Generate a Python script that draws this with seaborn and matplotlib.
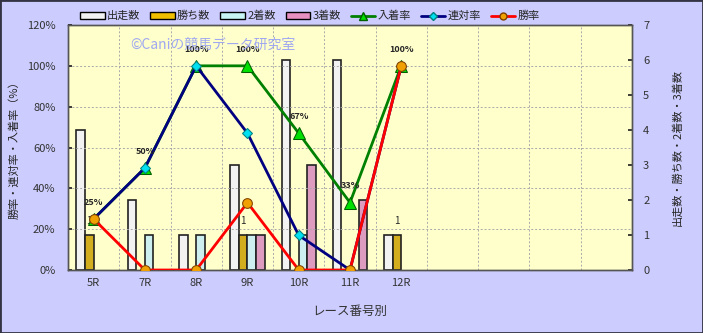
import numpy as np
import pandas as pd
import matplotlib
matplotlib.use("Agg")
import matplotlib.pyplot as plt
import seaborn as sns
from matplotlib.patches import Patch
from matplotlib.lines import Line2D

races = ["5R", "7R", "8R", "9R", "10R", "11R", "12R"]
starts = [4, 2, 1, 3, 6, 6, 1]       # 出走数
wins = [1, 0, 0, 1, 0, 0, 1]         # 勝ち数
seconds = [0, 1, 1, 1, 1, 0, 0]      # 2着数
thirds = [0, 0, 0, 1, 3, 2, 0]       # 3着数
place_rate = [25, 50, 100, 100, 67, 33, 100]   # 入着率
rentai_rate = [25, 50, 100, 67, 17, 0, 100]    # 連対率
win_rate = [25, 0, 0, 33, 0, 0, 100]           # 勝率
n_slots = 11

sns.set_theme(style="white")
plt.rcParams["font.family"] = ["Noto Sans CJK JP", "DejaVu Sans"]

bar_names = ["出走数", "勝ち数", "2着数", "3着数"]
bar_colors = ["#F2F2F2", "#F0C000", "#C8F4F4", "#E890C0"]
df = pd.DataFrame({
    "race": races * 4,
    "series": sum([[n] * len(races) for n in bar_names], []),
    "count": starts + wins + seconds + thirds,
})

fig = plt.figure(figsize=(7.03, 3.33), dpi=100, facecolor="#CCCCFF")
ax = fig.add_axes([68 / 703, 63 / 333, 564 / 703, 245 / 333])
ax.set_facecolor("#FFFFCC")

sns.barplot(data=df, x="race", y="count", hue="series", order=races,
            hue_order=bar_names, palette=bar_colors, width=0.67, gap=0,
            edgecolor="#222222", linewidth=1.2, ax=ax, legend=False, zorder=2)
for p in ax.patches:
    if p.get_height() == 0:
        p.set_visible(False)
ax.set_xlim(-0.5, n_slots - 0.5)
ax.set_ylim(0, 7)

ax2 = ax.twinx()

ax.yaxis.tick_right()
ax.yaxis.set_label_position("right")
ax.set_yticks(range(0, 8))
ax.set_ylabel("出走数・勝ち数・2着数・3着数", fontsize=8, labelpad=16)
ax.set_xlabel("レース番号別", fontsize=9, labelpad=12, color="#333333")
ax.set_xticks(range(len(races)))
ax.set_xticklabels(races, fontsize=8, color="#333333")
ax.tick_params(axis="y", labelsize=8, labelcolor="#333333", direction="in", length=3,
               right=True, left=False, labelright=True, labelleft=False, pad=8)
ax.tick_params(axis="x", length=0, pad=6)
ax.set_xticks(np.arange(n_slots) + 0.5, minor=True)
ax.tick_params(axis="x", which="minor", length=0)
ax.grid(False)
ax.grid(True, which="minor", axis="x", color="#AAAAAA", linestyle=(0, (2, 2)), linewidth=0.7)

# labels for 勝ち数
bar_w = 0.67 / 4
for i, w in enumerate(wins):
    if w > 0:
        ax.text(i - bar_w / 2, w + 0.25, str(w), ha="center", va="bottom", fontsize=7)

ax2.patch.set_visible(False)
ax2.yaxis.tick_left()
ax2.yaxis.set_label_position("left")
ax2.set_ylim(0, 120)
ax2.set_yticks(range(0, 121, 20))
ax2.set_yticklabels([f"{v}%" for v in range(0, 121, 20)])
ax2.tick_params(axis="y", labelsize=8, labelcolor="#333333", direction="in", length=3,
                left=True, right=False, labelleft=True, labelright=False, pad=9)
ax2.grid(True, axis="y", color="#AAAAAA", linestyle=(0, (2, 2)), linewidth=0.7)
ax2.set_axisbelow(True)
ax2.set_ylabel("勝率・連対率・入着率（%）", fontsize=8, labelpad=5)

x = np.arange(len(races))
line_df = pd.DataFrame({"x": x, "入着率": place_rate, "連対率": rentai_rate, "勝率": win_rate})
sns.lineplot(data=line_df, x="x", y="入着率", ax=ax2, color="#008000", lw=2,
             marker="^", markersize=8, markerfacecolor="#00E000", markeredgecolor="#006000", zorder=3)
sns.lineplot(data=line_df, x="x", y="連対率", ax=ax2, color="#000080", lw=2,
             marker="D", markersize=5, markerfacecolor="#00E0F0", markeredgecolor="#008080", zorder=4)
sns.lineplot(data=line_df, x="x", y="勝率", ax=ax2, color="#FF0000", lw=2,
             marker="o", markersize=7, markerfacecolor="#F0A000", markeredgecolor="#804000", zorder=5)
ax2.set_xlim(-0.5, n_slots - 0.5)
ax2.set_xlabel("")
for i, v in enumerate(place_rate):
    ax2.text(i, v + 6, f"{v}%", ha="center", va="bottom", fontsize=6.5, fontweight="bold", zorder=6)

for a in (ax, ax2):
    for s in a.spines.values():
        s.set_color("#555555")
        s.set_linewidth(1)

fig.text(130 / 703, 1 - 45 / 333, "©Caniの競馬データ研究室", fontsize=10, color="#9FA8F0", va="center")

handles = [Patch(facecolor=c, edgecolor="black", label=n) for n, c in zip(bar_names, bar_colors)]
handles += [
    Line2D([], [], color="#008000", lw=2, marker="^", markersize=6, markerfacecolor="#00E000", markeredgecolor="#006000", label="入着率"),
    Line2D([], [], color="#000080", lw=2, marker="D", markersize=4, markerfacecolor="#00E0F0", markeredgecolor="#008080", label="連対率"),
    Line2D([], [], color="#FF0000", lw=2, marker="o", markersize=5, markerfacecolor="#F0A000", markeredgecolor="#804000", label="勝率"),
]
fig.legend(handles=handles, loc="center", bbox_to_anchor=(310 / 703, 1 - 16 / 333), ncol=7,
           frameon=False, fontsize=8, handlelength=2.2, handleheight=0.6, columnspacing=0.9,
           handletextpad=0.2)

fig.patches.append(plt.Rectangle((0, 0), 1, 1, transform=fig.transFigure, fill=False,
                                 edgecolor="#333344", linewidth=2))
fig.savefig("out.png", dpi=100, facecolor=fig.get_facecolor())
